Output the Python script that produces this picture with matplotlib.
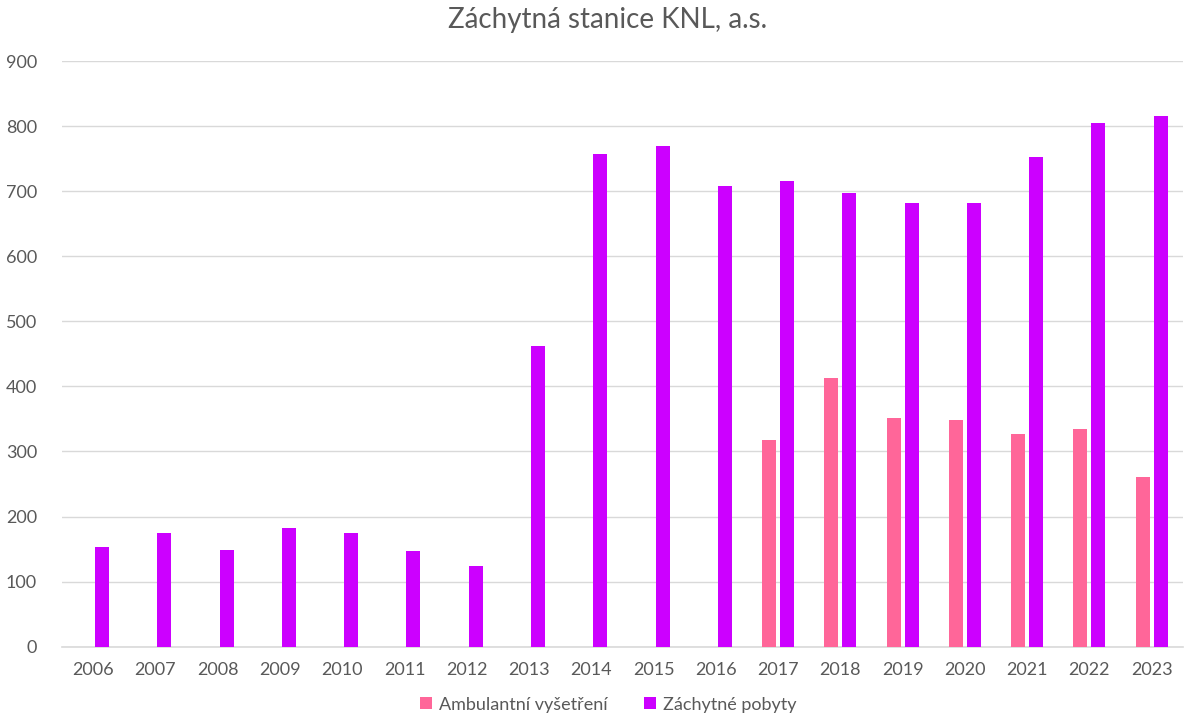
import numpy as np
import matplotlib.pyplot as plt

years = [str(y) for y in range(2006, 2024)]
ambulantni = [0, 0, 0, 0, 0, 0, 0, 0, 0, 0, 0, 318, 413, 352, 349, 327, 334, 260]
pobyty = [153, 175, 149, 182, 175, 147, 124, 462, 757, 770, 708, 715, 697, 682, 682, 752, 804, 815]
y_ticks = [0, 100, 200, 300, 400, 500, 600, 700, 800, 900]

plt.rcParams['font.family'] = ['Lato', 'DejaVu Sans']
text_color = '#595959'

fig = plt.figure(figsize=(11.84, 7.16), dpi=100)
ax = fig.add_axes([0.0524, 0.0968, 0.9466, 0.818])

x = np.arange(len(years))
w = 0.224
off = 0.144
amb = np.array(ambulantni, dtype=float)
amb_plot = np.where(amb > 0, amb, np.nan)
ax.bar(x - off, amb_plot, width=w, color='#FF6699', label='Ambulantní vyšetření', zorder=3)
ax.bar(x + off, pobyty, width=w, color='#CC00FF', label='Záchytné pobyty', zorder=3)

ax.set_xlim(-0.5, len(years) - 0.5)
ax.set_ylim(0, 900)
ax.set_yticks(y_ticks)
ax.set_xticks(x)
ax.set_xticklabels(years)
ax.grid(axis='y', color='#D9D9D9', linewidth=1, zorder=0)
for s in ['top', 'right', 'left']:
    ax.spines[s].set_visible(False)
ax.spines['bottom'].set_color('#D9D9D9')
ax.spines['bottom'].set_linewidth(1.2)
ax.tick_params(axis='both', length=0, labelsize=13, labelcolor=text_color)
ax.tick_params(axis='y', pad=18)
ax.tick_params(axis='x', pad=11)

fig.suptitle('Záchytná stanice KNL, a.s.', fontsize=20, color=text_color, x=0.513, y=0.99)

fig.legend(loc='lower center', bbox_to_anchor=(0.514, -0.018), ncol=2, frameon=False,
           fontsize=13, labelcolor=text_color, handlelength=0.65, handleheight=0.65,
           handletextpad=0.4, columnspacing=2.0)

fig.savefig('out.png', dpi=100)
